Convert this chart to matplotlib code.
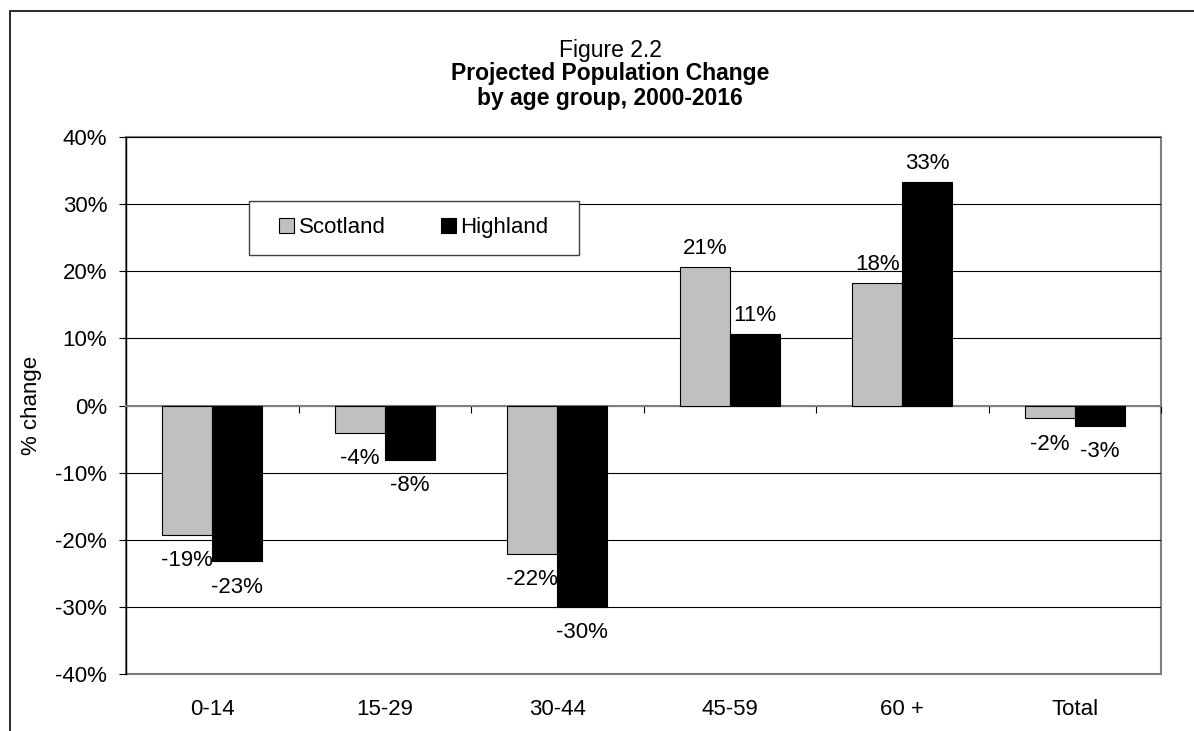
"""Figure 2.2: projected population change by age group, Scotland vs Highland."""

import matplotlib

matplotlib.use("Agg")
import matplotlib.pyplot as plt
import numpy as np
from matplotlib.patches import Patch, Rectangle
from matplotlib.ticker import FixedLocator, FuncFormatter

plt.rcParams["font.family"] = ["Liberation Sans", "DejaVu Sans"]

AGE_GROUPS = ["0-14", "15-29", "30-44", "45-59", "60 +", "Total"]
SCOTLAND = [-19.3, -4.1, -22.1, 20.6, 18.2, -1.9]
HIGHLAND = [-23.2, -8.1, -30.0, 10.6, 33.3, -3.0]
SERIES = ["Scotland", "Highland"]
COLOURS = ["#c0c0c0", "#000000"]

FS = 16
W, H = 1194, 731

fig = plt.figure(figsize=(W / 100, H / 100), dpi=100)
ax = fig.add_axes([126 / W, 1 - 674 / H, (1161 - 126) / W, (674 - 137) / H])

x = np.arange(len(AGE_GROUPS))
bar_w = 0.29
for k, (name, vals, col) in enumerate(zip(SERIES, [SCOTLAND, HIGHLAND], COLOURS)):
    xs = x + (k - 0.5) * bar_w
    # each series' labels sit under the next series' bars, as in the original
    ax.bar(xs, vals, width=bar_w, color=col, edgecolor="black", linewidth=0.8,
           label=name, zorder=3 + 0.2 * k)
    for xi, v in zip(xs, vals):
        ax.annotate(f"{v:.0f}%", (xi, v), xytext=(0, 6 if v > 0 else -11),
                    textcoords="offset points", ha="center",
                    va="bottom" if v > 0 else "top", fontsize=FS, zorder=3.1 + 0.2 * k)

ax.set_xlim(-0.5, len(AGE_GROUPS) - 0.5)
ax.set_ylim(-40, 40)
ax.set_yticks(np.arange(-40, 41, 10))
ax.yaxis.set_major_formatter(FuncFormatter(lambda v, _: f"{v:.0f}%"))
ax.grid(axis="y", color="black", linewidth=0.8)
ax.set_axisbelow(True)

# plot frame in grey, value axis in black, category axis on the zero line
ax.patch.set_edgecolor("#808080")
ax.patch.set_linewidth(1.5)
for side in ("top", "right"):
    ax.spines[side].set_visible(False)
ax.spines["left"].set_color("black")
ax.spines["left"].set_linewidth(1.0)
ax.spines["bottom"].set_position(("data", 0))
ax.spines["bottom"].set_color("#808080")
ax.spines["bottom"].set_linewidth(1.5)
ax.spines["bottom"].set_zorder(2.5)

ax.set_xticks(x, AGE_GROUPS)
ax.xaxis.set_minor_locator(FixedLocator(np.arange(-0.5, len(AGE_GROUPS), 1.0)))
ax.tick_params(axis="x", which="major", length=0, pad=211, labelsize=FS)
ax.tick_params(axis="x", which="minor", length=5, direction="out", color="black", width=0.8)
ax.tick_params(axis="y", length=5, direction="out", color="black", width=0.8,
               labelsize=FS, pad=8.5)

ax.set_ylabel("% change", fontsize=FS)
ax.yaxis.set_label_coords(-0.081, 0.5)

# legend: plain square box drawn behind a frameless legend
box_cx, box_cy, box_w, box_h = 0.2783, 0.8307, 0.3188, 0.1011
ax.add_patch(Rectangle((box_cx - box_w / 2, box_cy - box_h / 2), box_w, box_h,
                       transform=ax.transAxes, facecolor="white", edgecolor="#404040",
                       linewidth=1.0, zorder=4.5))
handles = [Patch(facecolor=c, edgecolor="black", linewidth=0.8) for c in COLOURS]
leg = ax.legend(handles, SERIES, ncol=2, loc="center", bbox_to_anchor=(box_cx, box_cy),
                borderaxespad=0, fontsize=FS, frameon=False,
                handlelength=0.65, handleheight=0.65, handletextpad=0.22,
                columnspacing=2.5, borderpad=0)
leg.set_zorder(5)

cx = 610 / W
fig.text(cx, 1 - 57 / H, "Figure 2.2", ha="center", va="baseline", fontsize=16.5)
fig.text(cx, 1 - 80 / H, "Projected Population Change", ha="center", va="baseline",
         fontsize=16.5, fontweight="bold")
fig.text(cx, 1 - 105 / H, "by age group, 2000-2016", ha="center", va="baseline",
         fontsize=16.5, fontweight="bold")

# outer chart border (runs off the right and bottom edges)
fig.patches.append(Rectangle((10 / W, -0.1), 1.2, 1.1 - 10.5 / H, transform=fig.transFigure,
                             fill=False, edgecolor="#1a1a1a", linewidth=1.3))

fig.savefig("out.png", dpi=100)
